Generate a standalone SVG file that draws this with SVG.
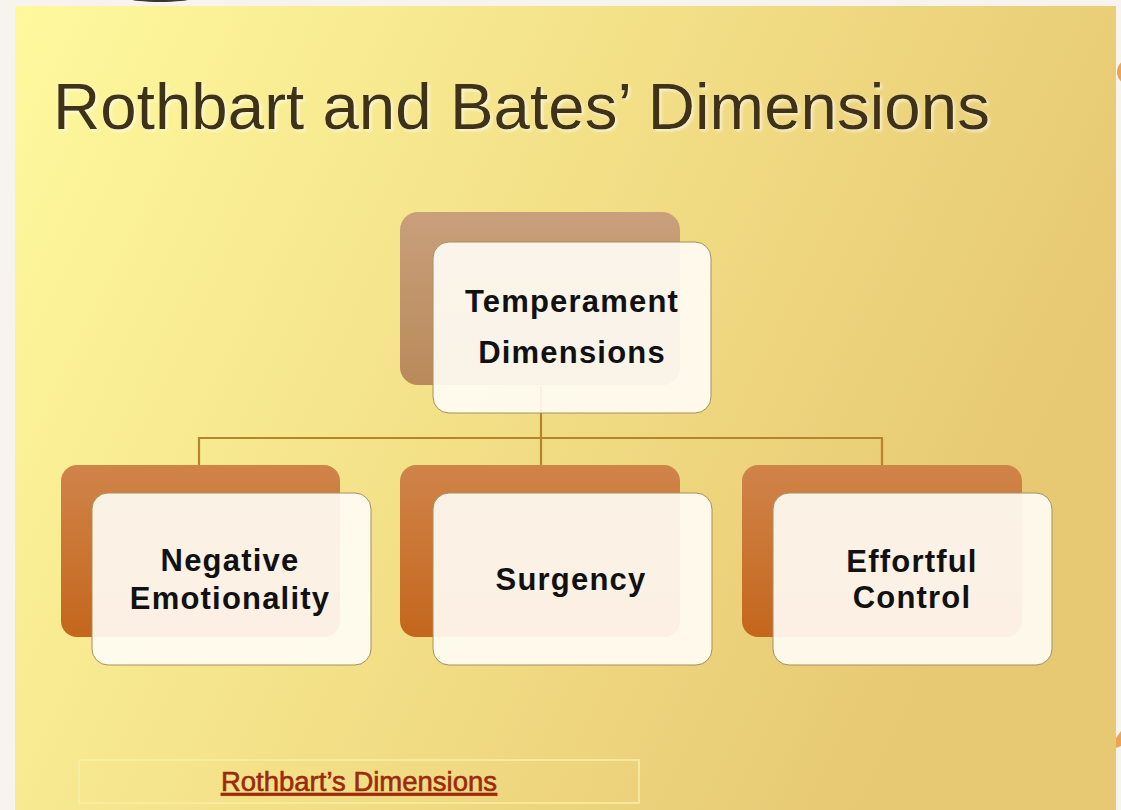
<svg xmlns="http://www.w3.org/2000/svg" width="1121" height="810" viewBox="0 0 1121 810">
  <defs>
    <linearGradient id="bg" x1="0" y1="0" x2="1" y2="0.35">
      <stop offset="0" stop-color="#fff99e"/>
      <stop offset="0.5" stop-color="#f3e188"/>
      <stop offset="1" stop-color="#e7c873"/>
    </linearGradient>
    <linearGradient id="tan" x1="0" y1="0" x2="0" y2="1">
      <stop offset="0" stop-color="#c9a07c"/>
      <stop offset="1" stop-color="#b9895a"/>
    </linearGradient>
    <linearGradient id="orange" x1="0" y1="0" x2="0" y2="1">
      <stop offset="0" stop-color="#d0844a"/>
      <stop offset="1" stop-color="#c4661c"/>
    </linearGradient>
    <filter id="shadow" x="-5%" y="-20%" width="110%" height="140%">
      <feDropShadow dx="2" dy="2" stdDeviation="1.5" flood-color="#ffffff" flood-opacity="0.6"/>
    </filter>
  </defs>
  <style>
    .back-top { fill: url(#tan); }
    .back { fill: url(#orange); }
    .front { fill: #fffcf4; fill-opacity: 0.92; stroke: #a88f5c; stroke-width: 1; }
    .label { font-family: "Liberation Sans", Arial, sans-serif; font-weight: bold; font-size: 31px; letter-spacing: 1.2px; fill: #111111; text-anchor: middle; }
    .conn { fill: none; stroke: #b5842c; stroke-width: 2.2; }
  </style>

  <!-- page -->
  <rect x="0" y="0" width="1121" height="810" fill="#f7f4ef"/>
  <ellipse cx="160" cy="-1" rx="29" ry="3" fill="#3a3632"/>
  <circle cx="1130" cy="72" r="13" fill="#e9a553"/>
  <path d="M1116 738 L1121 731 L1121 746 L1116 748 Z" fill="#e9a553"/>
  <rect x="15" y="6" width="1101" height="804" fill="url(#bg)"/>

  <!-- title -->
  <text x="53" y="129" font-family="Liberation Sans, Arial, sans-serif" font-size="65.5" fill="#3f3119" filter="url(#shadow)">Rothbart and Bates’ Dimensions</text>

  <!-- connectors -->
  <g id="connectors">
    <path class="conn" d="M541 386 V438"/>
    <path class="conn" d="M199 465 V438 H882 V465"/>
    <path class="conn" d="M541 438 V465"/>
  </g>

  <!-- nodes -->
  <g id="node-temperament">
    <rect class="back-top" x="400" y="212" width="280" height="173" rx="18"/>
    <rect class="front" x="433" y="242" width="278" height="171" rx="16"/>
    <text class="label" x="572" y="312">Temperament</text>
    <text class="label" x="572" y="363">Dimensions</text>
  </g>

  <g id="node-negative">
    <rect class="back" x="61" y="465" width="279" height="172" rx="16"/>
    <rect class="front" x="92" y="493" width="279" height="172" rx="16"/>
    <text class="label" x="230" y="571">Negative</text>
    <text class="label" x="230" y="609">Emotionality</text>
  </g>

  <g id="node-surgency">
    <rect class="back" x="400" y="465" width="280" height="172" rx="16"/>
    <rect class="front" x="433" y="493" width="279" height="172" rx="16"/>
    <text class="label" x="571" y="590">Surgency</text>
  </g>

  <g id="node-effortful">
    <rect class="back" x="742" y="465" width="280" height="172" rx="16"/>
    <rect class="front" x="773" y="493" width="279" height="172" rx="16"/>
    <text class="label" x="912" y="572">Effortful</text>
    <text class="label" x="912" y="608">Control</text>
  </g>

  <!-- footer link -->
  <g id="footer">
    <rect x="79" y="760" width="560" height="43" fill="none" stroke="#f8eeaa" stroke-width="1.5"/>
    <text x="359" y="791" font-family="Liberation Sans, Arial, sans-serif" font-size="27.5" fill="#9b2a0e" stroke="#9b2a0e" stroke-width="0.6" text-anchor="middle" text-decoration="underline">Rothbart’s Dimensions</text>
  </g>
</svg>
